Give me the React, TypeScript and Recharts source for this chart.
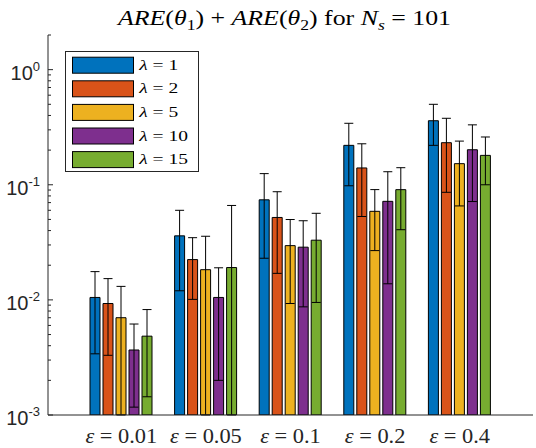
import React from 'react';
import { BarChart, Bar, XAxis, YAxis, ErrorBar, Legend } from 'recharts';

const W = 536;
const H = 448;

// categories (noise level) and series (regularisation weight)
const epsilonLabels = ['0.01', '0.05', '0.1', '0.2', '0.4'];
const lambdaValues = [1, 2, 5, 10, 15];
const seriesColors = ['#0072BD', '#D95319', '#EDB120', '#7E2F8E', '#77AC30'];

// mean ARE(θ1) + ARE(θ2) for each ε, one array per λ
const areLambda1 = [0.0105, 0.036, 0.074, 0.22, 0.36];
const areLambda2 = [0.0093, 0.0224, 0.052, 0.14, 0.232];
const areLambda5 = [0.007, 0.0183, 0.0296, 0.0588, 0.1525];
const areLambda10 = [0.00367, 0.0105, 0.0287, 0.0718, 0.2015];
const areLambda15 = [0.00484, 0.0191, 0.033, 0.0907, 0.18];

// standard deviations (symmetric error bars)
const stdLambda1 = [0.0071, 0.024, 0.051, 0.122, 0.14];
const stdLambda2 = [0.006, 0.0123, 0.035, 0.087, 0.146];
const stdLambda5 = [0.0061, 0.0174, 0.0203, 0.032, 0.087];
const stdLambda10 = [0.0025, 0.0085, 0.02, 0.058, 0.13];
const stdLambda15 = [0.0034, 0.047, 0.0235, 0.05, 0.08];

// log axis
const Y_MIN = 0.001;
const Y_MAX = 2;
const yMajorTicks = [0.001, 0.01, 0.1, 1];
const yMinorMultipliers = [2, 3, 4, 5, 6, 7, 8, 9];

const meanSeries = [areLambda1, areLambda2, areLambda5, areLambda10, areLambda15];
const stdSeries = [stdLambda1, stdLambda2, stdLambda5, stdLambda10, stdLambda15];

const yTicks: number[] = [];
yMajorTicks.forEach((m) => {
  yTicks.push(m);
  yMinorMultipliers.forEach((k) => {
    const t = +(k * m).toPrecision(6);
    if (t <= Y_MAX) yTicks.push(t);
  });
});

const chartData = epsilonLabels.map((eps, i) => {
  const row: Record<string, unknown> = { eps };
  meanSeries.forEach((vals, s) => {
    const v = vals[i];
    const sd = stdSeries[s][i];
    row[`mean${s}`] = v;
    // a whisker reaching below the axis floor is cut at the bottom of the plot
    row[`err${s}`] = [Math.min(sd, v - Y_MIN), sd];
  });
  return row;
});

const AXIS_COLOR = '#262626';
const SERIF = 'Liberation Serif';
const SANS = 'Liberation Sans';

const serifStyle = { fontFamily: SERIF } as React.CSSProperties;
const sansStyle = { fontFamily: SANS } as React.CSSProperties;

const isMajor = (v: number) =>
  yMajorTicks.some((t) => Math.abs(Math.log10(t) - Math.log10(v)) < 1e-6);

const YTick = (props: any) => {
  const { x, y, payload } = props;
  const v = Number(payload.value);
  const major = isMajor(v);
  return (
    <g>
      <line x1={x} x2={x + (major ? 5 : 3)} y1={y} y2={y} stroke={AXIS_COLOR} strokeWidth={1} />
      {major && (
        <text x={x - 8} y={y + 10} textAnchor="end" style={sansStyle} fontSize={20} fill={AXIS_COLOR}>
          10
          <tspan fontSize={13} dy={-9}>
            {String(Math.round(Math.log10(v)))}
          </tspan>
        </text>
      )}
    </g>
  );
};

const XTick = (props: any) => {
  const { x, y, payload } = props;
  return (
    <g transform={`translate(${x},${y + 28}) scale(1.12,1)`}>
      <text x={0} y={0} textAnchor="middle" style={serifStyle} fontSize={20} fill={AXIS_COLOR}>
        <tspan fontStyle="italic">ε</tspan> = {payload.value}
      </text>
    </g>
  );
};

const LegendBox = () => (
  <svg width={134} height={122} style={{ display: 'block' }}>
    <rect x={0.5} y={0.5} width={133} height={120} fill="#fff" stroke={AXIS_COLOR} strokeWidth={1} />
    {lambdaValues.map((lam, i) => (
      <g key={lam} transform={`translate(0, ${5.7 + i * 23.6})`}>
        <rect x={7.5} y={0.5} width={61} height={16} fill={seriesColors[i]} stroke="#000" strokeWidth={1} />
        <g transform="translate(74.3, 13) scale(1.3,1)">
          <text x={0} y={0} style={serifStyle} fontSize={15} fill="#000">
            <tspan fontStyle="italic">λ</tspan> = {lam}
          </text>
        </g>
      </g>
    ))}
  </svg>
);

export default function App() {
  return (
    <div style={{ position: 'absolute', left: 0, top: 0, width: W, height: H, background: '#fff' }}>
      <BarChart
        width={W}
        height={H}
        data={chartData}
        margin={{ top: 35, right: 3, left: 0, bottom: 0 }}
        barGap={3}
        barSize={10}
      >
        <XAxis
          dataKey="eps"
          padding={{ left: 31, right: 31 }}
          tickLine={false}
          axisLine={{ stroke: AXIS_COLOR }}
          tick={<XTick />}
          tickSize={0}
          tickMargin={0}
          height={33}
          interval={0}
        />
        <YAxis
          scale="log"
          type="number"
          domain={[Y_MIN, Y_MAX]}
          allowDataOverflow
          ticks={yTicks}
          interval={0}
          tickLine={false}
          tickSize={0}
          tickMargin={0}
          axisLine={{ stroke: AXIS_COLOR }}
          tick={<YTick />}
          width={48}
        />
        <Legend
          layout="vertical"
          align="center"
          verticalAlign="middle"
          wrapperStyle={{ left: 65, top: 51, width: 134, height: 122 }}
          content={() => <LegendBox />}
        />
        {lambdaValues.map((lam, s) => (
          <Bar
            key={lam}
            dataKey={`mean${s}`}
            name={`λ = ${lam}`}
            fill={seriesColors[s]}
            stroke="#000"
            strokeWidth={1}
            isAnimationActive={false}
          >
            <ErrorBar dataKey={`err${s}`} width={4.5} stroke="#000" strokeWidth={1} direction="y" isAnimationActive={false} />
          </Bar>
        ))}
      </BarChart>
      <svg width={W} height={40} style={{ position: 'absolute', left: 0, top: 0 }}>
        <text x={118} y={25} style={serifStyle} fontSize={22} fill="#000" textLength={333} lengthAdjust="spacingAndGlyphs">
          <tspan fontStyle="italic">ARE</tspan>(<tspan fontStyle="italic">θ</tspan>
          <tspan fontSize={15} dy={5}>1</tspan>
          <tspan dy={-5}>) + </tspan>
          <tspan fontStyle="italic">ARE</tspan>(<tspan fontStyle="italic">θ</tspan>
          <tspan fontSize={15} dy={5}>2</tspan>
          <tspan dy={-5}>) for </tspan>
          <tspan fontStyle="italic">N</tspan>
          <tspan fontStyle="italic" fontSize={15} dy={5}>s</tspan>
          <tspan dy={-5}> = 101</tspan>
        </text>
      </svg>
    </div>
  );
}
